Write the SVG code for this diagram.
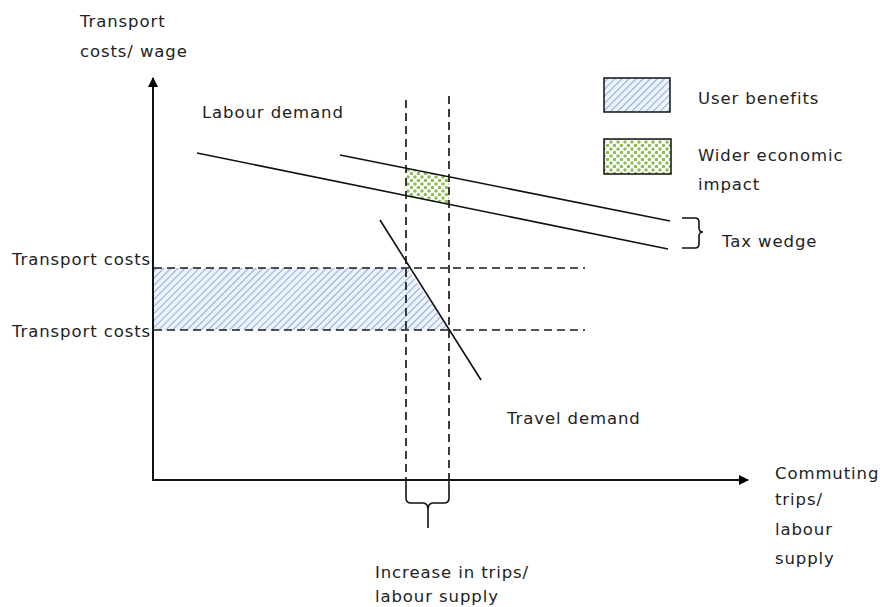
<svg xmlns="http://www.w3.org/2000/svg" width="880" height="607" viewBox="0 0 880 607">
<style>
text{font-family:"DejaVu Sans","Liberation Sans",sans-serif;font-size:16.5px;fill:#222;letter-spacing:0.9px}
.ax{stroke:#111;stroke-width:2;fill:none}
.ln{stroke:#111;stroke-width:1.6;fill:none}
.dash{stroke:#1a1a1a;stroke-width:1.7;stroke-dasharray:8 5;fill:none}
</style>
<defs>
<pattern id="hatch" width="5" height="5" patternUnits="userSpaceOnUse" patternTransform="rotate(45)">
<rect width="5" height="5" fill="#eef3fb"/>
<line x1="0" y1="0" x2="0" y2="5" stroke="#8aaedc" stroke-width="2"/>
</pattern>
<pattern id="dots" width="7" height="7" patternUnits="userSpaceOnUse">
<rect width="7" height="7" fill="#fff"/>
<circle cx="2" cy="2" r="1.8" fill="#8fbd5a"/>
<circle cx="5.5" cy="5.5" r="1.8" fill="#8fbd5a"/>
</pattern>
<marker id="arr" markerWidth="10" markerHeight="10" refX="9" refY="5" orient="auto" markerUnits="userSpaceOnUse">
<path d="M0,0 L10,5 L0,10 Z" fill="#000"/>
</marker>
</defs>

<g id="areas">
<polygon points="153,268 407,268 449,330 153,330" fill="url(#hatch)"/>
<polygon points="406,168 449,177 449,205 406,196" fill="url(#dots)"/>
</g>

<g id="connectors">
<line class="ax" x1="153" y1="481" x2="153" y2="78" marker-end="url(#arr)"/>
<line class="ax" x1="152" y1="480" x2="748" y2="480" marker-end="url(#arr)"/>
<line class="dash" x1="406" y1="100" x2="406" y2="480"/>
<line class="dash" x1="449" y1="96" x2="449" y2="480"/>
<line class="dash" x1="154" y1="268" x2="585" y2="268"/>
<line class="dash" x1="154" y1="330" x2="585" y2="330"/>
<line class="ln" x1="197" y1="153" x2="668" y2="249"/>
<line class="ln" x1="340" y1="155" x2="670" y2="221"/>
<line class="ln" x1="380" y1="220" x2="481" y2="380"/>
<path class="ln" d="M682,218 L695,218 Q699,218 699,222 L699,228 Q699,232 703,232 Q699,232 699,236 L699,244 Q699,248 695,248 L682,248"/>
<path class="ln" d="M406,480 L406,498 Q406,503 411,503 L423,503 Q428,503 428,510 L428,528 M449,480 L449,498 Q449,503 444,503 L433,503 Q428,503 428,510"/>
</g>

<g id="legend-user">
<rect x="604" y="78" width="66" height="34" fill="url(#hatch)" stroke="#111" stroke-width="1.5"/>
<text x="698" y="104">User benefits</text>
</g>
<g id="legend-wider">
<rect x="604" y="139" width="67" height="35" fill="url(#dots)" stroke="#111" stroke-width="1.5"/>
<text x="698" y="161">Wider economic</text>
<text x="698" y="190">impact</text>
</g>

<g id="labels">
<text x="80" y="27">Transport</text>
<text x="80" y="57">costs/ wage</text>
<text x="202" y="118">Labour demand</text>
<text x="12" y="265">Transport costs</text>
<text x="12" y="337">Transport costs</text>
<text x="722" y="247">Tax wedge</text>
<text x="507" y="424">Travel demand</text>
<text x="775" y="479">Commuting</text>
<text x="775" y="505">trips/</text>
<text x="775" y="535">labour</text>
<text x="775" y="564">supply</text>
<text x="375" y="578">Increase in trips/</text>
<text x="375" y="602">labour supply</text>
</g>
</svg>
